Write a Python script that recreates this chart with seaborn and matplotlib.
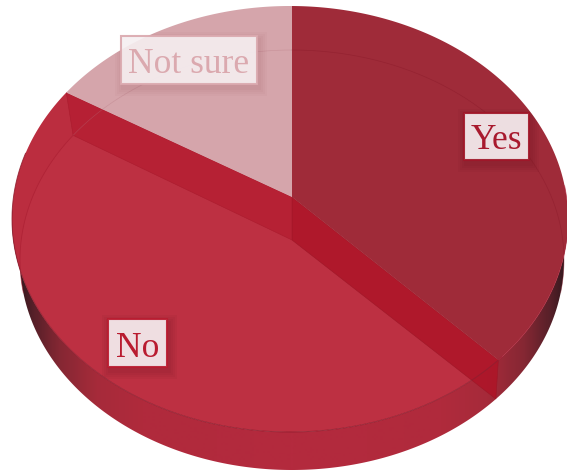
import numpy as np
import matplotlib
matplotlib.use("Agg")
import matplotlib.pyplot as plt
from matplotlib.colors import LinearSegmentedColormap
from matplotlib.patches import Polygon, Rectangle
import seaborn as sns

categories = ["Yes", "No", "Not sure"]
shares = [36.4, 48.6, 15.0]

top_colors = sns.color_palette(["#9f2b39", "#bd3042", "#d5a5ab"])
label_colors = sns.color_palette(["#a81a2e", "#b91c30", "#dba9af"])
border_colors = sns.color_palette(["#a01729", "#b91c30", "#dba9af"])
shadow_alpha = [0.05, 0.05, 0.025]

sns.set_theme(style="white")
plt.rcParams["font.family"] = ["Liberation Serif", "DejaVu Serif"]

fig = plt.figure(figsize=(5.67, 4.72), dpi=100)
ax = fig.add_axes([0, 0, 1, 1])

# The disc in perspective: near face, far face and their projected centres
TOP = dict(cx=290.0, cy=219.0, rx=278.0, ry=213.0)
BOT = dict(cx=292.0, cy=260.0, rx=272.0, ry=210.0)
TOP_APEX = (292.0, 197.0)
BOT_APEX = (292.0, 240.0)
START_ANGLE = 0.0072  # puts the first slice edge straight above the apex


def rim(face, angle):
    """Point on an ellipse, angle measured clockwise from twelve o'clock."""
    return np.column_stack([
        face["cx"] + face["rx"] * np.sin(angle),
        face["cy"] - face["ry"] * np.cos(angle),
    ])


fractions = np.cumsum([0] + shares) / np.sum(shares)
bounds = fractions * 2 * np.pi + START_ANGLE
yes_end, no_end = bounds[1], bounds[2]

# Shaded outer wall, darkening toward both ends of the silhouette
wall_cmap = LinearSegmentedColormap.from_list("wall", [
    (0.0, "#b42a3e"), (0.55, "#b02a3c"), (0.72, "#a62b3a"),
    (0.86, "#842733"), (0.95, "#582029"), (1.0, "#3a1a20"),
])
xs = np.arange(0, 568)
shade = np.clip(np.abs(xs - 292.0) / 272.0, 0, 1)[None, :]
wall_img = ax.imshow(shade, cmap=wall_cmap, vmin=0, vmax=1, extent=(0, 567, 472, 0),
                     aspect="auto", zorder=1, interpolation="bilinear")
sweep = np.linspace(np.pi / 2 - 0.05, 3 * np.pi / 2 + 0.05, 361)
wall_shape = Polygon(np.vstack([rim(TOP, sweep), rim(BOT, sweep[::-1])]), closed=True,
                     transform=ax.transData, fc="none", ec="none")
ax.add_patch(wall_shape)
wall_img.set_clip_path(wall_shape)

ax.set_xlim(0, 567)
ax.set_ylim(472, 0)
ax.axis("off")


def sector(start, end, apex, face, color, z):
    arc = rim(face, np.linspace(start, end, 200))
    patch = Polygon(np.vstack([[apex], arc]), closed=True, fc=color, ec="none", zorder=z)
    ax.add_patch(patch)
    return patch


# Top face of the largest slice
whole = np.linspace(0, 2 * np.pi, 400)
sector(bounds[1], bounds[2], TOP_APEX, TOP, top_colors[1], 2)

# Slightly darker crescent where the near rim runs outside the far face
clip = Polygon(np.vstack([[TOP_APEX], rim(TOP, np.linspace(bounds[1], bounds[2], 200))]),
               closed=True, transform=ax.transData)
cres = Polygon(np.vstack([rim(TOP, whole), rim(BOT, whole[::-1])]), closed=True,
               fc="#b0182c", alpha=0.12, ec="none", zorder=2.2)
ax.add_patch(cres)
cres.set_clip_path(clip)

# Cut faces seen through the translucent slices
yes_cut = np.vstack([[TOP_APEX], rim(TOP, np.array([yes_end])), rim(BOT, np.array([yes_end])), [BOT_APEX]])
no_cut = np.vstack([[TOP_APEX], rim(TOP, np.array([no_end])), rim(BOT, np.array([no_end])), [BOT_APEX]])
ax.add_patch(Polygon(yes_cut, closed=True, fc="#ae1528", alpha=0.88, ec="#9a1626", lw=0.4, zorder=3))
ax.add_patch(Polygon(no_cut, closed=True, fc="#b61f33", alpha=0.88, ec="#a81a2c", lw=0.4, zorder=3))

# Remaining two slice tops
sector(bounds[0], bounds[1], TOP_APEX, TOP, top_colors[0], 4)
sector(bounds[2], bounds[3], TOP_APEX, TOP, top_colors[2], 4)

# Outline of the far face showing through, and the near rim
ax.plot(*rim(BOT, np.linspace(0, np.pi * 0.55, 200)).T, color="#8a1a2a", lw=0.5, alpha=0.5, zorder=5)
ax.plot(*rim(BOT, np.linspace(no_end, 2 * np.pi, 200)).T, color="#b5757f", lw=0.5, alpha=0.35, zorder=5)
ax.plot(*rim(BOT, np.linspace(np.pi * 1.45, no_end, 100)).T, color="#a81c30", lw=0.6, alpha=0.6, zorder=5)
ax.plot(*rim(TOP, np.linspace(yes_end - 0.02, np.pi * 1.6, 300)).T, color="#8e1c2d", lw=0.7, alpha=0.8, zorder=5)
ax.plot(*rim(TOP, np.linspace(np.pi * 0.45, yes_end, 100)).T, color="#b0243a", lw=0.6, alpha=0.7, zorder=5)
ax.plot([TOP_APEX[0], TOP_APEX[0]], [TOP["cy"] - TOP["ry"], TOP_APEX[1]], color="#9f2b39", lw=0.5, zorder=5)

# Slice labels on pale boxes, shadows kept on the disc
disc = Polygon(rim(TOP, whole), closed=True, transform=ax.transData)
boxes = {"Yes": (463, 112, 530, 161, 149), "No": (107, 318, 168, 368, 357), "Not sure": (120, 35, 258, 85, 73)}
for i, name in enumerate(categories):
    x0, y0, x1, y1, baseline = boxes[name]
    for grow in (7, 5, 3, 1):
        shadow = Rectangle((x0 + 2 - grow, y0 + 4 - grow), x1 - x0 + 2 * grow, y1 - y0 + 2 * grow,
                           fc="#5a0f1a", alpha=shadow_alpha[i], ec="none", zorder=6)
        ax.add_patch(shadow)
        shadow.set_clip_path(disc)
    ax.add_patch(Rectangle((x0 + 1, y0 + 1), x1 - x0 - 2, y1 - y0 - 2, fc="#f6eff1", alpha=0.92,
                           ec=border_colors[i], lw=1.5, zorder=7))
    ax.text((x0 + x1) / 2, baseline, name, color=label_colors[i], fontsize=25.5,
            ha="center", va="baseline", zorder=8)

fig.savefig("out.png", dpi=100)
